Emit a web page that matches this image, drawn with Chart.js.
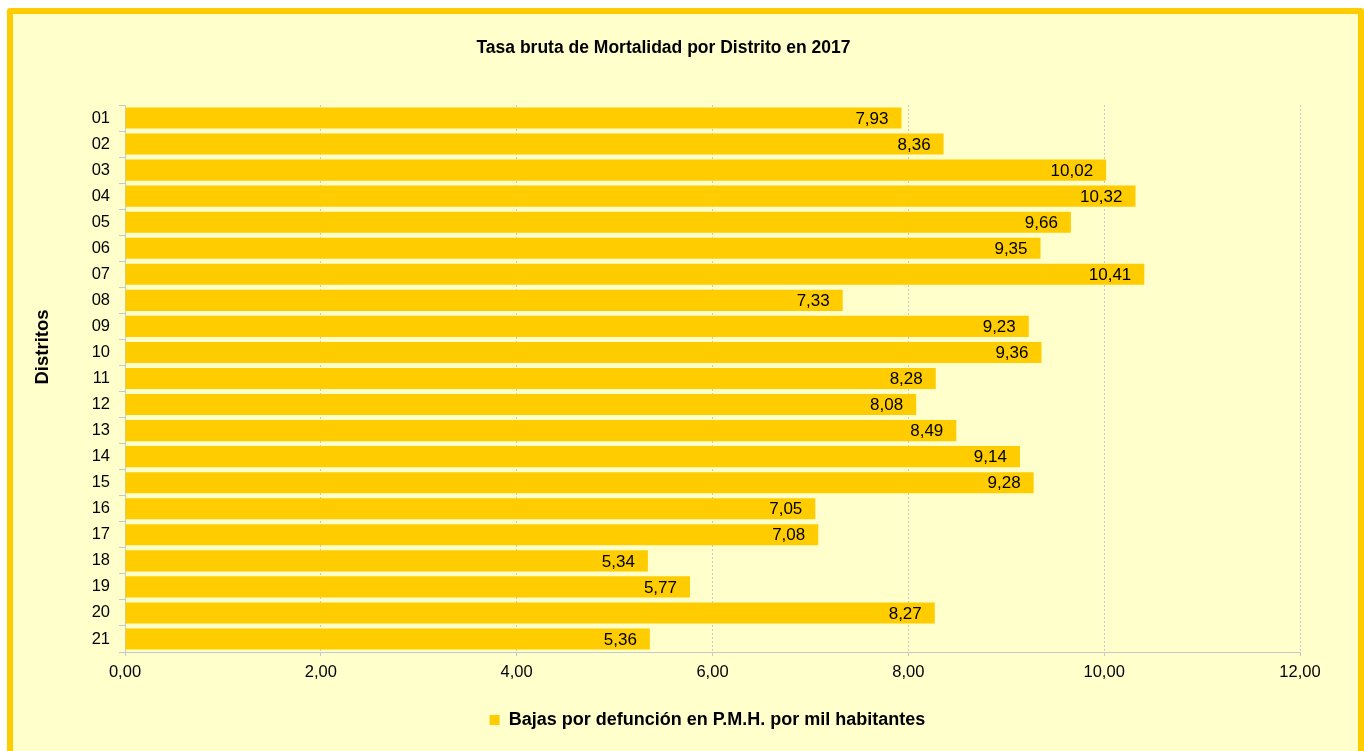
<!DOCTYPE html>
<html>
<head>
<meta charset="utf-8">
<script src="https://cdn.jsdelivr.net/npm/chart.js@4"></script>
<style>
  html, body { margin: 0; padding: 0; background: #fff; overflow: hidden; }
  #frame {
    position: absolute; left: 7px; top: 8px;
    width: 1357px; height: 760px; box-sizing: border-box;
    border: 6px solid #FFCC00; border-radius: 3px;
    background: #FFFFCC;
  }
  #myChart { position: absolute; left: 0; top: 0; }
</style>
</head>
<body>
<div id="frame"></div>
<canvas id="myChart" width="1364" height="751"></canvas>
<script>
var distritos = ['01','02','03','04','05','06','07','08','09','10','11',
                 '12','13','14','15','16','17','18','19','20','21'];
var tasas = [7.93, 8.36, 10.02, 10.32, 9.66, 9.35, 10.41, 7.33, 9.23, 9.36, 8.28,
             8.08, 8.49, 9.14, 9.28, 7.05, 7.08, 5.34, 5.77, 8.27, 5.36];
var serieLabel = 'Bajas por defunción en P.M.H. por mil habitantes';
var ejeY = 'Distritos';

function coma(v) {
  return Number(v).toFixed(2).replace('.', ',');
}

// etiquetas dentro del extremo de cada barra + titulo del eje Y (como en Excel, algo por encima del centro)
var etiquetas = {
  id: 'etiquetas',
  afterLayout: function(chart) {
    // la leyenda de Excel no queda centrada del todo
    chart.legend.left += 44;
    chart.legend.right += 44;
  },
  afterDatasetsDraw: function(chart) {
    var ctx = chart.ctx;
    var meta = chart.getDatasetMeta(0);
    ctx.save();
    ctx.font = '17px "Liberation Sans", Arial, sans-serif';
    ctx.fillStyle = '#000';
    ctx.textAlign = 'right';
    ctx.textBaseline = 'middle';
    meta.data.forEach(function(bar, i) {
      ctx.fillText(coma(tasas[i]), bar.x - 13, bar.y + 1);
    });
    ctx.translate(43, 347);
    ctx.rotate(-Math.PI / 2);
    ctx.textAlign = 'center';
    ctx.font = 'bold 18.5px "Liberation Sans", Arial, sans-serif';
    ctx.fillText(ejeY, 0, 0);
    ctx.restore();
  }
};

Chart.defaults.font.family = '"Liberation Sans", Arial, sans-serif';
Chart.defaults.color = '#000';

var ctx = document.getElementById('myChart').getContext('2d');
var grafico = new Chart(ctx, {
  type: 'bar',
  data: {
    labels: distritos,
    datasets: [{
      label: serieLabel,
      data: tasas,
      backgroundColor: '#FFCC00',
      borderWidth: 0,
      barPercentage: 0.81,
      categoryPercentage: 1
    }]
  },
  options: {
    indexAxis: 'y',
    responsive: false,
    animation: false,
    layout: { padding: { left: 27, right: 64, top: 0, bottom: 12 } },
    scales: {
      x: {
        min: 0, max: 12,
        ticks: { stepSize: 2, font: { size: 16.5 }, padding: 7, callback: function(v) { return coma(v); } },
        grid: { color: '#C8C8C8', tickLength: 4 },
        border: { color: '#C8C8C8', dash: [2, 2] },
        afterFit: function(s) { s.height = 49; }
      },
      y: {
        ticks: { font: { size: 16.5 }, padding: 9 },
        grid: { drawOnChartArea: false, color: '#C8C8C8', tickLength: 6 },
        border: { color: '#C8C8C8' },
        afterFit: function(s) { s.width = 98; }
      }
    },
    plugins: {
      title: {
        display: true,
        text: 'Tasa bruta de Mortalidad por Distrito en 2017',
        font: { size: 17.5, weight: 'bold' },
        color: '#000',
        padding: { top: 38, bottom: 46 }
      },
      legend: {
        position: 'bottom',
        labels: { boxWidth: 10, boxHeight: 10, padding: 10, font: { size: 18, weight: 'bold' } }
      },
      tooltip: { enabled: false }
    }
  },
  plugins: [etiquetas]
});
</script>
</body>
</html>
